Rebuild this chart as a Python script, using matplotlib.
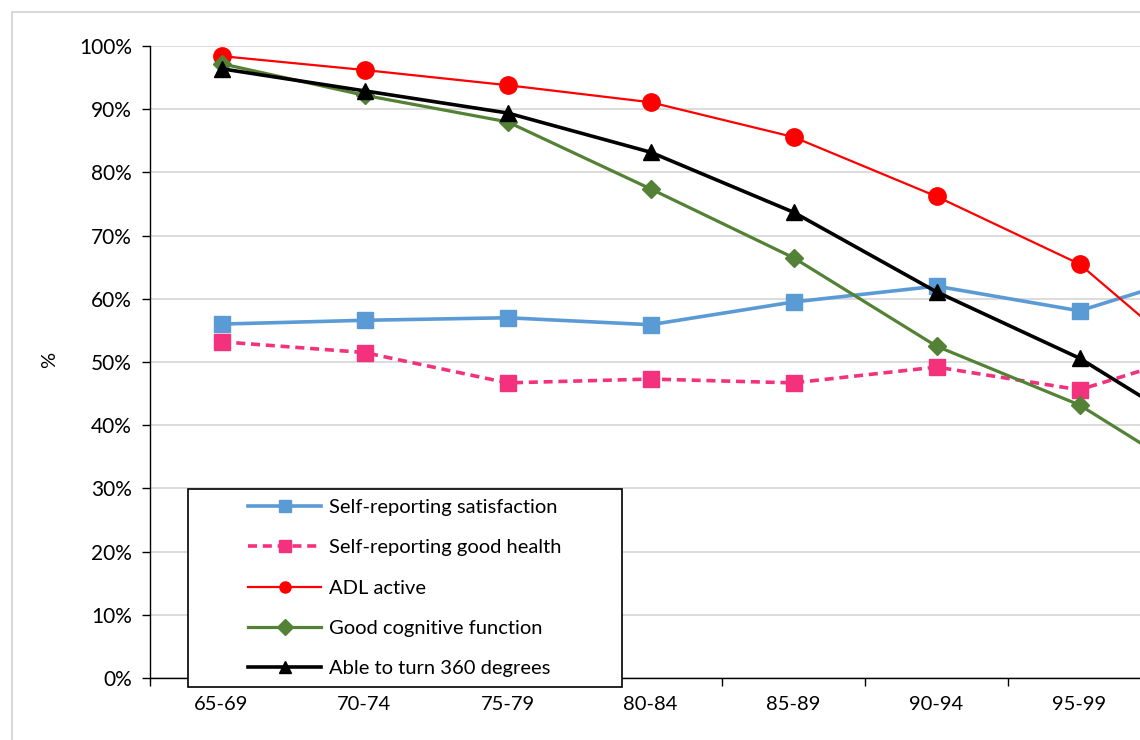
import matplotlib.pyplot as plt
import matplotlib.patches as patches
from matplotlib.ticker import FixedLocator, FuncFormatter

plt.rcParams['font.family'] = ['Lato', 'DejaVu Sans']

# Age groups (last one is cut off by the frame in the reference)
ages = ["65-69", "70-74", "75-79", "80-84", "85-89", "90-94", "95-99", "100+"]

satisfaction = [56.0, 56.6, 57.0, 55.9, 59.5, 62.0, 58.1, 65.1]
good_health = [53.2, 51.5, 46.7, 47.3, 46.7, 49.2, 45.6, 52.6]
adl_active = [98.4, 96.2, 93.8, 91.1, 85.6, 76.2, 65.5, 46.2]
cognitive = [97.2, 92.2, 88.0, 77.4, 66.5, 52.5, 43.2, 29.1]
turn_360 = [96.4, 92.9, 89.4, 83.2, 73.7, 61.1, 50.6, 36.6]

W, H = 1140, 740
fig = plt.figure(figsize=(W / 100, H / 100), dpi=100)

# outer chart border, runs off the right and bottom of the crop
fig.patches.append(patches.Rectangle((12 / W, -0.1), 1.2, (H - 12) / H + 0.1,
                                     transform=fig.transFigure, fill=False,
                                     edgecolor="#d9d9d9", linewidth=1.5))

# plot area is wider than the picture: the last category falls outside
ax = fig.add_axes([150 / W, (H - 678) / H, (1294 - 150) / W, (678 - 46) / H])
x = list(range(len(ages)))

ax.plot(x, satisfaction, color="#5b9bd5", lw=2.6, marker="s", ms=12,
        label="Self-reporting satisfaction", clip_on=False, zorder=3)
ax.plot(x, good_health, color="#f4317c", lw=2.6, ls=(0, (2.5, 1.6)), marker="s", ms=12,
        label="Self-reporting good health", clip_on=False, zorder=3)
ax.plot(x, adl_active, color="#ff0000", lw=1.6, marker="o", ms=12.5,
        label="ADL active", clip_on=False, zorder=3)
ax.plot(x, cognitive, color="#538135", lw=2.3, marker="D", ms=9,
        label="Good cognitive function", clip_on=False, zorder=3)
ax.plot(x, turn_360, color="black", lw=2.6, marker="^", ms=12,
        label="Able to turn 360 degrees", clip_on=False, zorder=3)

ax.set_xlim(-0.5, len(ages) - 0.5)
ax.set_ylim(0, 100)
ax.set_yticks(range(0, 101, 10))
ax.yaxis.set_major_formatter(FuncFormatter(lambda v, p: f"{v:.0f}%"))
ax.grid(axis="y", color="#d9d9d9", lw=1.3)
ax.set_axisbelow(True)

# the last label sits outside the crop, so it is not drawn
ax.set_xticks(x[:-1])
ax.set_xticklabels(ages[:-1])
ax.xaxis.set_minor_locator(FixedLocator([i - 0.5 for i in range(len(ages) + 1)]))
ax.tick_params(axis="x", which="major", length=0, pad=13, labelsize=14.5)
ax.tick_params(axis="x", which="minor", length=6, width=1, direction="out")
ax.tick_params(axis="y", length=6, width=1, direction="out", pad=7, labelsize=15)

for side in ["top", "right"]:
    ax.spines[side].set_visible(False)
ax.spines["left"].set_linewidth(1)
ax.spines["bottom"].set_linewidth(1)

fig.text(50 / W, (H - 360) / H, "%", rotation=90, ha="center", va="center", fontsize=14.5)

# legend box drawn separately, entries centred inside it
fig.patches.append(patches.Rectangle((188 / W, (H - 687) / H), (622 - 188) / W, (687 - 489) / H,
                                     transform=fig.transFigure, facecolor="white",
                                     edgecolor="black", linewidth=1.2, zorder=4))
leg = fig.legend(loc="center", bbox_to_anchor=(405 / W, (H - 588) / H),
                 frameon=False, fontsize=14.5, handlelength=3.6, handletextpad=0.4,
                 labelspacing=1.15, borderaxespad=0)
leg.set_zorder(5)
for h in leg.legend_handles:
    h.set_markersize(8)

fig.savefig("out.png", dpi=100)
